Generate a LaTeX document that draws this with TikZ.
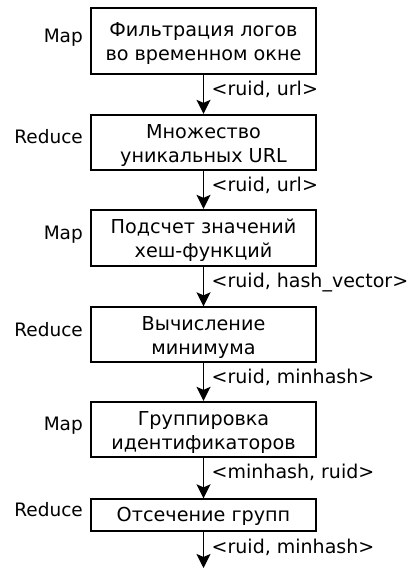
\documentclass[tikz,border=0pt]{standalone}
\usepackage{fontspec}
\setmainfont{DejaVu Sans}
\usetikzlibrary{arrows.meta}
\tikzset{
  stagebox/.style={draw, line width=1.8pt, minimum width=225.2pt, inner sep=0pt,
    align=center, font=\fontsize{19.2}{24}\selectfont, text depth=0pt, text height=40pt},
  onelinebox/.style={stagebox, text height=12.8pt},
  arr/.style={line width=1.8pt, -{Stealth[length=14pt,width=14pt,inset=3pt]}},
  edgelbl/.style={anchor=base west, inner sep=0pt, font=\fontsize{19}{23}\selectfont},
  phase/.style={anchor=base east, inner sep=0pt, font=\fontsize{18.5}{23}\selectfont}
}
\begin{document}
\begin{tikzpicture}[x=1pt,y=-1pt]
\useasboundingbox (0,0) rectangle (410,569);
\node[stagebox, minimum height=66pt] (b1) at (203.5,40.75) {Фильтрация логов\\во временном окне};
\node[stagebox, minimum height=55pt] (b2) at (203.5,142.25) {Множество\\уникальных URL};
\node[stagebox, minimum height=56pt] (b3) at (203.5,237.75) {Подсчет значений\\хеш-функций};
\node[stagebox, minimum height=54.5pt] (b4) at (203.5,334.5) {Вычисление\\минимума};
\node[stagebox, minimum height=55pt] (b5) at (203.5,429.25) {Группировка\\идентификаторов};
\node[onelinebox, minimum height=32pt] (b6) at (203.5,515.25) {Отсечение групп};
\coordinate (out) at (203.5,568);

\node[phase] (p1) at ([xshift=-7pt,yshift=-1.5pt]b1.west) {Map};
\node[phase] (p2) at ([xshift=-7pt,yshift=-1.5pt]b2.west) {Reduce};
\node[phase] (p3) at ([xshift=-7pt,yshift=-1.5pt]b3.west) {Map};
\node[phase] (p4) at ([xshift=-7pt,yshift=-1.5pt]b4.west) {Reduce};
\node[phase] (p5) at ([xshift=-7pt,yshift=-1.5pt]b5.west) {Map};
\node[phase] (p6) at ([xshift=-7pt,yshift=-1pt]b6.west) {Reduce};

\draw[arr] (b1.south) -- (b2.north);
\draw[arr] (b2.south) -- (b3.north);
\draw[arr] (b3.south) -- (b4.north);
\draw[arr] (b4.south) -- (b5.north);
\draw[arr] (b5.south) -- (b6.north);
\draw[arr] (b6.south) -- (out);

\node[edgelbl] (l1) at ([xshift=8pt,yshift=-21pt]b1.south) {<ruid, url>};
\node[edgelbl] (l2) at ([xshift=8pt,yshift=-21pt]b2.south) {<ruid, url>};
\node[edgelbl] (l3) at ([xshift=8pt,yshift=-21pt]b3.south) {<ruid, hash\_vector>};
\node[edgelbl] (l4) at ([xshift=8pt,yshift=-21pt]b4.south) {<ruid, minhash>};
\node[edgelbl] (l5) at ([xshift=8pt,yshift=-21pt]b5.south) {<minhash, ruid>};
\node[edgelbl] (l6) at ([xshift=8pt,yshift=-21pt]b6.south) {<ruid, minhash>};
\end{tikzpicture}
\end{document}
